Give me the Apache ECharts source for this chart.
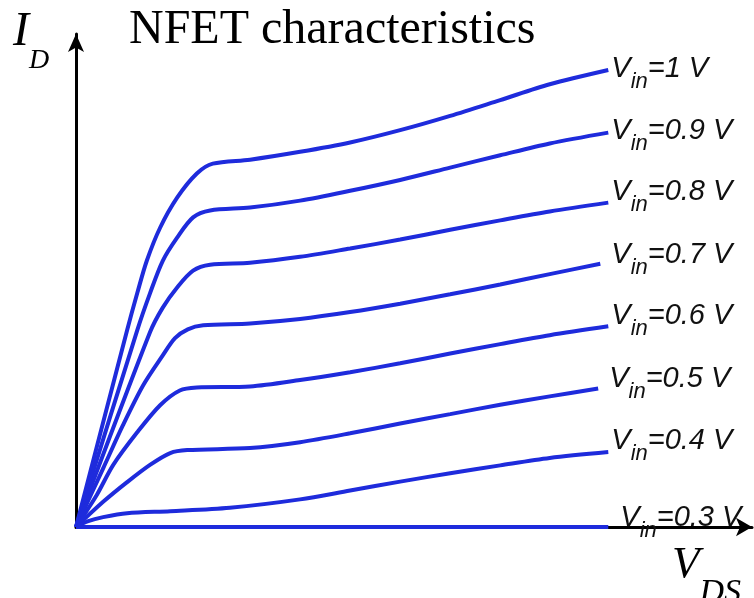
<!DOCTYPE html>
<html>
<head>
<meta charset="utf-8">
<script src="https://cdn.jsdelivr.net/npm/echarts@6/dist/echarts.min.js"></script>
<style>
  html, body { margin: 0; padding: 0; background: #fff; }
  #chart { width: 754px; height: 598px; }
</style>
</head>
<body>
<div id="chart"></div>
<script>
// input voltages, one curve each
var vinLevels = ['1', '0.9', '0.8', '0.7', '0.6', '0.5', '0.4', '0.3'];

// V_DS / I_D points (arbitrary units)
var curve10 = [[0, 0], [0.096, 39.9], [0.115, 47.4], [0.133, 54.0], [0.158, 60.7], [0.190, 66.8], [0.227, 71.7], [0.257, 73.7], [0.327, 74.5], [0.421, 76.1], [0.515, 78.0], [0.609, 80.5], [0.703, 83.4], [0.797, 86.6], [0.890, 89.8], [1.0, 92.7]];
var curve09 = [[0, 0], [0.115, 39.9], [0.139, 47.4], [0.163, 54.0], [0.190, 58.7], [0.220, 62.8], [0.252, 64.2], [0.327, 64.8], [0.421, 66.2], [0.515, 68.2], [0.609, 70.4], [0.703, 72.9], [0.797, 75.4], [0.890, 77.8], [1.0, 80.0]];
var curve08 = [[0, 0], [0.139, 39.5], [0.163, 44.5], [0.190, 48.6], [0.220, 52.0], [0.252, 53.2], [0.327, 53.6], [0.421, 54.8], [0.515, 56.5], [0.609, 58.3], [0.703, 60.3], [0.797, 62.2], [0.890, 64.0], [1.0, 65.8]];
var curve07 = [[0, 0], [0.051, 11.9], [0.088, 20.6], [0.126, 28.7], [0.163, 34.8], [0.186, 38.3], [0.210, 40.1], [0.239, 40.9], [0.327, 41.3], [0.421, 42.2], [0.515, 43.6], [0.609, 45.3], [0.703, 47.2], [0.797, 49.2], [0.890, 51.3], [0.985, 53.4]];
var curve06 = [[0, 0], [0.039, 6.5], [0.070, 12.6], [0.115, 19.2], [0.158, 24.7], [0.195, 27.7], [0.227, 28.3], [0.327, 28.5], [0.421, 29.8], [0.515, 31.4], [0.609, 33.2], [0.703, 35.2], [0.797, 37.1], [0.890, 38.9], [1.0, 40.7]];
var curve05 = [[0, 0], [0.051, 5.1], [0.096, 9.1], [0.139, 12.6], [0.177, 15.0], [0.209, 15.6], [0.327, 16.0], [0.421, 17.2], [0.515, 19.0], [0.609, 21.0], [0.703, 22.9], [0.797, 24.8], [0.890, 26.5], [0.981, 28.1]];
var curve04 = [[0, 0], [0.023, 1.2], [0.051, 2.0], [0.096, 2.8], [0.177, 3.2], [0.289, 3.9], [0.421, 5.6], [0.515, 7.4], [0.609, 9.2], [0.703, 10.9], [0.797, 12.5], [0.890, 14.0], [1.0, 15.2]];
var curve03 = [[0, 0], [1.0, 0]];

var curves = [curve10, curve09, curve08, curve07, curve06, curve05, curve04, curve03];

// nudge of each end label (px)
var labelShift = [[0, -1], [0, -2], [0, -11], [8, -9], [0, -10], [8, -10], [0, -11], [9, -9]];

var blue = '#1e2bdc';

var chart = echarts.init(document.getElementById('chart'));

var series = curves.map(function (pts, i) {
  return {
    type: 'line',
    data: pts,
    smooth: 0.3,
    showSymbol: false,
    lineStyle: { color: blue, width: 4 },
    endLabel: {
      show: true,
      distance: 3,
      offset: labelShift[i],
      formatter: '{v|V}{s|in}{v|=' + vinLevels[i] + ' V}',
      rich: {
        v: { fontFamily: 'Liberation Sans', fontStyle: 'italic', fontSize: 29, color: '#111' },
        s: { fontFamily: 'Liberation Sans', fontStyle: 'italic', fontSize: 22, color: '#111', padding: [26, 0, 0, 0] }
      }
    }
  };
});

chart.setOption({
  animation: false,
  backgroundColor: '#fff',
  title: {
    text: 'NFET characteristics',
    left: 129,
    top: 6,
    padding: 0,
    textStyle: { fontFamily: 'Liberation Serif', fontSize: 48, fontWeight: 'normal', color: '#000' }
  },
  grid: { left: 76, right: 2, top: 34, bottom: 71 },
  xAxis: {
    type: 'value',
    min: 0,
    max: 1.27,
    axisLabel: { show: false },
    axisTick: { show: false },
    splitLine: { show: false },
    axisLine: { lineStyle: { color: '#000', width: 3 }, symbol: ['none', 'arrow'], symbolSize: [14, 16] }
  },
  yAxis: {
    type: 'value',
    min: 0,
    max: 100,
    axisLabel: { show: false },
    axisTick: { show: false },
    splitLine: { show: false },
    axisLine: { lineStyle: { color: '#000', width: 3 }, symbol: ['none', 'arrow'], symbolSize: [12, 18] }
  },
  graphic: [
    {
      type: 'text',
      x: 13,
      y: -11,
      style: {
        text: '{i|I}{d|D}',
        rich: {
          i: { fontFamily: 'Liberation Serif', fontStyle: 'italic', fontSize: 48, fill: '#000' },
          d: { fontFamily: 'Liberation Serif', fontStyle: 'italic', fontSize: 28, fill: '#000', padding: [58, 0, 0, 0] }
        }
      }
    },
    {
      type: 'text',
      x: 672,
      y: 520,
      style: {
        text: '{v|V}{d|DS}',
        rich: {
          v: { fontFamily: 'Liberation Serif', fontStyle: 'italic', fontSize: 45, fill: '#000' },
          d: { fontFamily: 'Liberation Serif', fontStyle: 'italic', fontSize: 34, fill: '#000', padding: [56, 0, 0, 0] }
        }
      }
    }
  ],
  series: series
});
</script>
</body>
</html>
